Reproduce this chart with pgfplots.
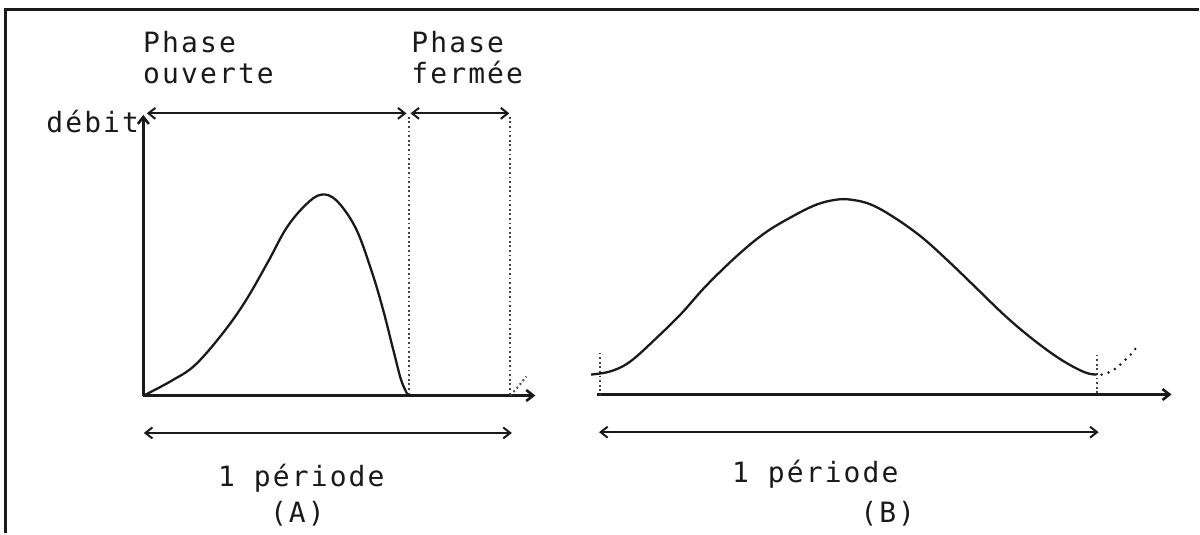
\documentclass[border=0pt]{standalone}
\usepackage{pgfplots}
\pgfplotsset{compat=1.18}
\usetikzlibrary{arrows.meta}
\usepackage{fontspec}
\newfontfamily\tw[LetterSpace=7.6]{DejaVu Sans Mono}
\definecolor{ink}{HTML}{1A1A1A}
\definecolor{dotc}{HTML}{444444}
\tikzset{
  barb/.style={-{Straight Barb[length=3.5pt,width=5.5pt]}},
  dbarb/.style={{Straight Barb[length=3.5pt,width=5.5pt]}-{Straight Barb[length=3.5pt,width=5.5pt]}},
  lbl/.style={anchor=base west,inner sep=0pt,text=ink,font=\tw\fontsize{14pt}{16pt}\selectfont},
}
\begin{document}
\begin{tikzpicture}
\begin{axis}[width=600pt,height=267pt,scale only axis,
  xmin=0,xmax=1200,ymin=0,ymax=534,y dir=reverse,
  hide axis,clip=false]
% bounding box
\addplot[draw=none] coordinates {(0,0) (1200,534)};
% frame (top and left)
\addplot[ink,line width=1.5pt] coordinates {(6,534) (6,9.5) (1200,9.5)};

% ---------- Chart A ----------
\addplot[ink,line width=1.3pt,barb] coordinates {(143.5,396) (143.5,115)};
\addplot[ink,line width=1.3pt,barb] coordinates {(143.5,396) (536,396)};
\addplot[ink,line width=1pt,dbarb] coordinates {(147,113.5) (407,113.5)};
\addplot[ink,line width=1pt,dbarb] coordinates {(411,113.5) (510,113.5)};
\addplot[dotc,line width=1pt,dash pattern=on 0.9pt off 1.4pt] coordinates {(409.5,117) (409.5,396)};
\addplot[dotc,line width=1pt,dash pattern=on 0.9pt off 1.4pt] coordinates {(511,117) (511,396)};
\addplot[dotc,line width=1pt,dash pattern=on 0.9pt off 1.5pt] coordinates {(511,396) (519,387) (527,377)};
\addplot[ink,line width=1.15pt,smooth,tension=0.6] coordinates {
(143.5,396.3) (172.2,381) (195.2,365.6) (222,335) (245,302.7) (267.9,263)
(287,228) (306.2,205) (321.5,194.9) (336.8,200.7) (355.9,227.9)
(371.2,268.7) (383,308) (394.2,352) (401.8,381) (408.7,396.3)};
\addplot[ink,line width=1pt,dbarb] coordinates {(144,433.5) (512.5,433.5)};

% ---------- Chart B ----------
\addplot[ink,line width=1.3pt,barb] coordinates {(597.8,395) (1173,395)};
\addplot[dotc,line width=1pt,dash pattern=on 0.9pt off 1.4pt] coordinates {(600.5,353) (600.5,395)};
\addplot[dotc,line width=1pt,dash pattern=on 0.9pt off 1.4pt] coordinates {(1098.3,355) (1098.3,395)};
\addplot[ink,line width=1.15pt,smooth,tension=0.6] coordinates {
(591.9,375) (611.6,371.7) (631.4,361.7) (659.1,336.7) (682.8,313.3)
(706.5,286.7) (738.1,256) (765.8,233.3) (793.4,216.7) (817.2,205)
(836.9,200) (852.7,200) (872.5,205) (896.2,218.3) (923.9,238.3)
(951.5,263.3) (979.2,290) (1006.9,316.7) (1034.5,340) (1062.2,360)
(1085.9,372.7) (1098,375)};
\addplot[ink,line width=1.4pt,line cap=round,dash pattern=on 0pt off 3.6pt,smooth] coordinates {
(1103,375) (1113,371.7) (1121.7,365) (1128,359) (1134,353) (1140,345)};
\addplot[ink,line width=1pt,dbarb] coordinates {(599.8,432.7) (1100,432.7)};

% ---------- Labels ----------
\node[lbl] at (axis cs:143,53) {Phase};
\node[lbl] at (axis cs:143,83.3) {ouverte};
\node[lbl] at (axis cs:411.5,53) {Phase};
\node[lbl] at (axis cs:411.5,83.3) {fermée};
\node[lbl] at (axis cs:46,132.6) {débit};
\node[lbl] at (axis cs:218,487.5) {1 période};
\node[lbl] at (axis cs:270,523) {(A)};
\node[lbl] at (axis cs:732.6,483) {1 période};
\node[lbl] at (axis cs:861,523) {(B)};
\end{axis}
\end{tikzpicture}
\end{document}
